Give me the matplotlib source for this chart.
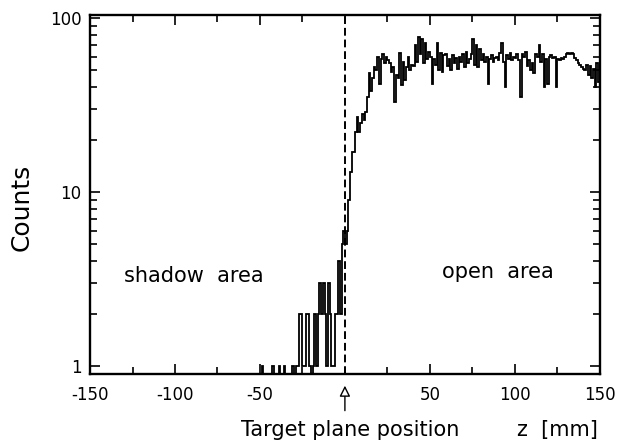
import numpy as np
import matplotlib
matplotlib.use("Agg")
import matplotlib.pyplot as plt
from matplotlib.ticker import MultipleLocator, LogLocator, FixedLocator, FixedFormatter, NullFormatter

plt.rcParams['font.family'] = ['DejaVu Sans']
plt.rcParams['axes.unicode_minus'] = False

# 1 mm bins from -150 to 150 mm
bin_edges = np.arange(-150, 151, 1)

# counts per bin, left to right
counts_shadow = [0] * 101 + [1] + [0] * 5 + [1] + [0] * 3 + [1, 0, 0, 1, 0]    # -150 .. -35
counts_tail = [0, 0, 0, 1, 0, 1, 1, 2, 2, 1, 1, 2, 2, 1, 0,                    # -34 .. -20
               1, 2, 1, 2, 3, 2, 3, 2, 1, 3, 2, 1, 1, 2, 2, 4, 2, 5, 6]         # -19 .. -1
counts_rise = [5, 6, 9, 13, 17, 17, 22, 27, 22, 25, 28, 26, 29, 35, 48, 38,    # 0 .. 15
               45, 52, 50, 60, 42, 58, 62, 55, 60]                              # 16 .. 24
counts_open = [57, 55, 49, 52, 33, 47, 45, 63, 41, 56, 44, 52, 60, 50, 54,     # 25 .. 39
               53, 70, 56, 78, 62, 76, 55, 72, 58, 64, 60, 42, 58, 54, 72,     # 40 .. 54
               50, 63, 49, 61, 62, 53, 58, 50, 61, 55, 59, 51, 60, 56, 62,     # 55 .. 69
               52, 64, 55, 58, 62, 76, 54, 70, 52, 66, 57, 62, 56, 60, 42,     # 70 .. 84
               58, 61, 56, 59, 60, 57, 63, 72, 56, 40, 61, 58, 63, 57, 60,     # 85 .. 99
               59, 62, 57, 35, 62, 60, 64, 53, 57, 50, 55, 48, 62, 60, 70,     # 100 .. 114
               56, 62, 40, 58, 42, 60, 61, 59, 60, 40, 58, 57, 59, 58, 60,     # 115 .. 129
               62, 63, 62, 63, 62, 59, 57, 55, 54, 52, 51, 50, 54, 47, 53,     # 130 .. 144
               45, 51, 40, 55, 43]                                              # 145 .. 149
counts = np.array(counts_shadow + counts_tail + counts_rise + counts_open, dtype=float)

x_ticks = [-150, -100, -50, 50, 100, 150]
y_ticks = [1, 10, 100]
y_tick_labels = ['1', '10', '100']

fig = plt.figure(figsize=(6.17, 4.42), dpi=100)
ax = fig.add_axes([0.146, 0.154, 0.826, 0.812])

ax.stairs(counts, bin_edges, color='black', linewidth=1.3, baseline=None)
ax.axvline(0, color='black', linestyle=(0, (4, 2)), linewidth=1.4)

ax.set_yscale('log', nonpositive='clip')
ax.set_xlim(-150, 150)
ax.set_ylim(0.9, 104)

ax.xaxis.set_major_locator(FixedLocator(x_ticks))
ax.xaxis.set_minor_locator(MultipleLocator(25))
ax.yaxis.set_major_locator(FixedLocator(y_ticks))
ax.yaxis.set_major_formatter(FixedFormatter(y_tick_labels))
ax.yaxis.set_minor_locator(LogLocator(base=10, subs=np.arange(2, 10)))
ax.yaxis.set_minor_formatter(NullFormatter())

ax.tick_params(which='both', direction='in', top=True, right=True, width=1.2)
ax.tick_params(which='major', length=7, labelsize=12)
ax.tick_params(which='minor', length=5)
ax.tick_params(axis='x', which='major', pad=9)
ax.tick_params(axis='y', which='major', pad=6)
for spine in ax.spines.values():
    spine.set_linewidth(1.7)

ax.text(-89, 3.3, 'shadow  area', ha='center', va='center', fontsize=15)
ax.text(90, 3.45, 'open  area', ha='center', va='center', fontsize=15)

fig.text(22 / 617, 1 - 207 / 442, 'Counts', rotation=90, ha='center', va='center', fontsize=18)
fig.text(350 / 617, 1 - 430 / 442, 'Target plane position', ha='center', va='center', fontsize=15)
fig.text(557 / 617, 1 - 430 / 442, 'z  [mm]', ha='center', va='center', fontsize=15)

# arrow marking the target plane under the axis
ax.annotate('', xy=(0, -0.025), xytext=(0, -0.11),
            xycoords=('data', 'axes fraction'), textcoords=('data', 'axes fraction'),
            arrowprops=dict(arrowstyle='-|>', fc='white', ec='black', lw=1.0,
                            mutation_scale=16),
            annotation_clip=False)

fig.savefig('out.png', dpi=100, facecolor='white')
